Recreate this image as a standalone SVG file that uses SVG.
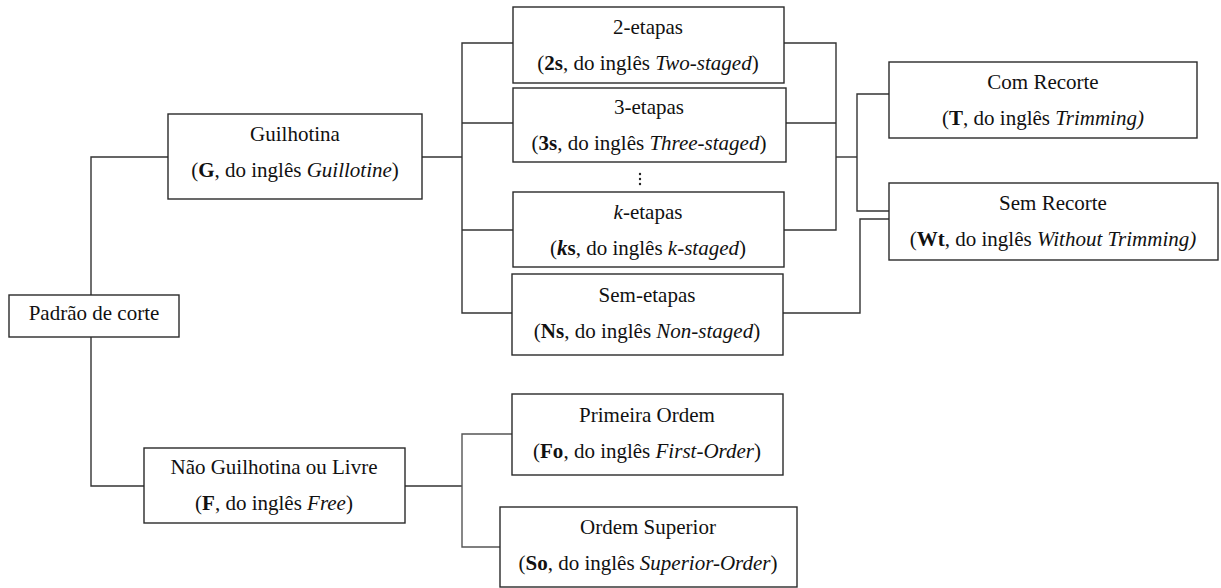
<svg xmlns="http://www.w3.org/2000/svg" width="1221" height="588" viewBox="0 0 1221 588">
  <style>
    .box { fill: #ffffff; stroke: #2a2a2a; stroke-width: 1.4; }
    .wire { fill: none; stroke: #333333; stroke-width: 1.4; }
    .wire-lt { fill: none; stroke: #555555; stroke-width: 1.4; }
    text { font-family: "Liberation Serif", "Times New Roman", serif; font-size: 21px; fill: #111111; text-anchor: middle; }
    .b { font-weight: bold; }
    .i { font-style: italic; }
  </style>
  <rect width="1221" height="588" fill="#ffffff"/>

  <!-- connectors -->
  <g id="connectors">
    <!-- root to the two main families -->
    <polyline class="wire" points="91,295 91,157 168,157"/>
    <polyline class="wire" points="91,337 91,486 144,486"/>
    <!-- guillotine to staged variants -->
    <line class="wire" x1="422" y1="157" x2="462" y2="157"/>
    <polyline class="wire" points="513,43 462,43 462,313 512,313"/>
    <line class="wire" x1="462" y1="123" x2="513" y2="123"/>
    <line class="wire" x1="462" y1="230" x2="513" y2="230"/>
    <!-- staged variants to trimming options -->
    <polyline class="wire" points="784,43 836,43 836,230 784,230"/>
    <line class="wire" x1="786" y1="123" x2="836" y2="123"/>
    <line class="wire" x1="836" y1="157" x2="857" y2="157"/>
    <polyline class="wire" points="889,94 857,94 857,211 889,211"/>
    <!-- non-staged to without trimming -->
    <polyline class="wire" points="783,313 860,313 860,219 889,219"/>
    <!-- non-guillotine to order variants -->
    <line class="wire" x1="405" y1="486" x2="462" y2="486"/>
    <polyline class="wire-lt" points="512,434 462,434 462,547 500,547"/>
  </g>

  <g id="padrao">
    <rect class="box" x="9" y="295" width="170" height="42"/>
    <text x="94" y="320">Padrão de corte</text>
  </g>

  <g id="guilhotina">
    <rect class="box" x="168" y="114" width="254" height="85"/>
    <text x="295" y="141">Guilhotina</text>
    <text x="295" y="177">(<tspan class="b">G</tspan>, do inglês <tspan class="i">Guillotine</tspan>)</text>
  </g>

  <g id="nao-guilhotina">
    <rect class="box" x="144" y="448" width="261" height="75"/>
    <text x="274" y="474">Não Guilhotina ou Livre</text>
    <text x="274" y="510">(<tspan class="b">F</tspan>, do inglês <tspan class="i">Free</tspan>)</text>
  </g>

  <g id="two-staged">
    <rect class="box" x="513" y="7" width="271" height="76"/>
    <text x="648" y="34">2-etapas</text>
    <text x="648" y="70">(<tspan class="b">2s</tspan>, do inglês <tspan class="i">Two-staged</tspan>)</text>
  </g>

  <g id="three-staged">
    <rect class="box" x="513" y="88" width="273" height="74"/>
    <text x="649" y="114">3-etapas</text>
    <text x="649" y="150">(<tspan class="b">3s</tspan>, do inglês <tspan class="i">Three-staged</tspan>)</text>
  </g>

  <g id="ellipsis">
    <circle cx="640" cy="174" r="1.2" fill="#222"/>
    <circle cx="640" cy="179" r="1.2" fill="#222"/>
    <circle cx="640" cy="184" r="1.2" fill="#222"/>
  </g>

  <g id="k-staged">
    <rect class="box" x="513" y="192" width="271" height="75"/>
    <text x="648" y="219"><tspan class="i">k</tspan>-etapas</text>
    <text x="648" y="255">(<tspan class="b i">k</tspan><tspan class="b">s</tspan>, do inglês <tspan class="i">k-staged</tspan>)</text>
  </g>

  <g id="non-staged">
    <rect class="box" x="512" y="274" width="271" height="81"/>
    <text x="647" y="302">Sem-etapas</text>
    <text x="647" y="338">(<tspan class="b">Ns</tspan>, do inglês <tspan class="i">Non-staged</tspan>)</text>
  </g>

  <g id="com-recorte">
    <rect class="box" x="889" y="62" width="308" height="76"/>
    <text x="1043" y="89">Com Recorte</text>
    <text x="1043" y="125">(<tspan class="b">T</tspan>, do inglês <tspan class="i">Trimming)</tspan></text>
  </g>

  <g id="sem-recorte">
    <rect class="box" x="889" y="183" width="329" height="77"/>
    <text x="1053" y="210">Sem Recorte</text>
    <text x="1053" y="246">(<tspan class="b">Wt</tspan>, do inglês <tspan class="i">Without Trimming)</tspan></text>
  </g>

  <g id="primeira-ordem">
    <rect class="box" x="512" y="394" width="271" height="81"/>
    <text x="647" y="422">Primeira Ordem</text>
    <text x="647" y="458">(<tspan class="b">Fo</tspan>, do inglês <tspan class="i">First-Order</tspan>)</text>
  </g>

  <g id="ordem-superior">
    <rect class="box" x="500" y="507" width="297" height="80"/>
    <text x="648" y="534">Ordem Superior</text>
    <text x="648" y="570">(<tspan class="b">So</tspan>, do inglês <tspan class="i">Superior-Order</tspan>)</text>
  </g>
</svg>
